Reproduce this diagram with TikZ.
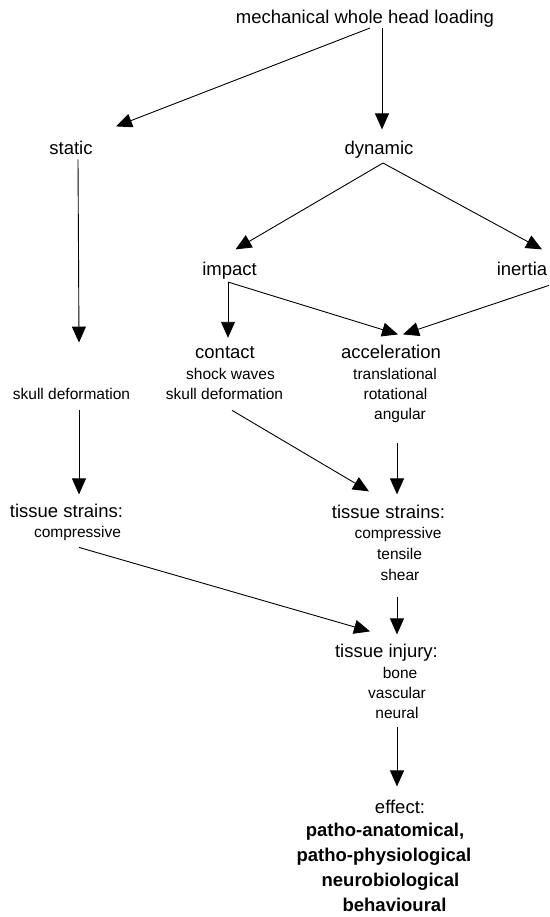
\documentclass[tikz,border=0pt]{standalone}
\usepackage{fontspec}
\setmainfont{Liberation Sans}
\usetikzlibrary{arrows.meta}

\begin{document}
\begin{tikzpicture}[x=1pt,y=-1pt,
	every node/.style={inner sep=0pt, anchor=base},
	big/.style={font=\fontsize{18.5}{20}\selectfont},
	sml/.style={font=\fontsize{15.5}{17}\selectfont},
	bld/.style={font=\fontsize{18.5}{20}\selectfont\bfseries},
	arr/.style={line width=0.9pt, -{Triangle[length=16pt,width=14pt]}}]
	\useasboundingbox (0,0) rectangle (549,917);
	% top levels
	\node[big] (mech) at (365,24) {mechanical whole head loading};
	\node[big] (static) at (71,155) {static};
	\node[big] (dynamic) at (379,155) {dynamic};
	\node[big] (impact) at (229.5,275) {impact};
	\node[big] (inertia) at (522,275) {inertia};
	% contact and acceleration
	\node[big] (contact) at (225,358) {contact};
	\node[sml] (shock) at (230.5,379) {shock waves};
	\node[sml] (skullC) at (224.5,399) {skull deformation};
	\node[big] (accel) at (391,358) {acceleration};
	\node[sml] (transl) at (395,379) {translational};
	\node[sml] (rot) at (395.5,399) {rotational};
	\node[sml] (ang) at (400,419) {angular};
	\node[sml] (skullL) at (71.5,399) {skull deformation};
	% tissue strains
	\node[big] (strainsL) at (66.5,517) {tissue strains:};
	\node[sml] (compL) at (77.5,537) {compressive};
	\node[big] (strainsR) at (388.5,518) {tissue strains:};
	\node[sml] (compR) at (398,538) {compressive};
	\node[sml] (tensile) at (399.5,559) {tensile};
	\node[sml] (shear) at (400,580) {shear};
	% tissue injury
	\node[big] (injury) at (386.5,657) {tissue injury:};
	\node[sml] (bone) at (400,678) {bone};
	\node[sml] (vasc) at (397,698) {vascular};
	\node[sml] (neural) at (397,718) {neural};
	% effect
	\node[big] (effect) at (400,813) {effect:};
	\node[bld] (anat) at (385,836) {patho-anatomical,};
	\node[bld] (phys) at (384,861) {patho-physiological};
	\node[bld] (neuro) at (390.5,886) {neurobiological};
	\node[bld] (behav) at (394.5,911) {behavioural};
	% connectors
	\draw[arr] ([xshift=5pt]mech.south) -- ([xshift=45pt,yshift=15pt]static.north);
	\draw[arr] ([xshift=17pt]mech.south) -- ([xshift=3pt,yshift=12pt]dynamic.north);
	\draw[arr] ([xshift=4pt,yshift=-4pt]dynamic.south) -- ([xshift=6pt,yshift=12pt]impact.north);
	\draw[arr] ([xshift=4pt,yshift=-4pt]dynamic.south) -- ([xshift=20pt,yshift=12pt]inertia.north);
	\draw[arr] ([xshift=-1.5pt,yshift=-3pt]impact.south) -- ([xshift=3pt,yshift=8pt]contact.north);
	\draw[arr] ([xshift=-1.5pt,yshift=-3pt]impact.south) -- ([xshift=7pt,yshift=10pt]accel.north);
	\draw[arr] ([xshift=1.5pt,yshift=-10pt]inertia.south east) -- ([xshift=12pt,yshift=10pt]accel.north);
	\draw[arr] ([xshift=7pt,yshift=-4pt]static.south) -- ([xshift=7.5pt,yshift=45pt]skullL.north);
	\draw[arr] ([xshift=7.5pt,yshift=-11pt]skullL.south) -- ([xshift=12.5pt,yshift=9pt]strainsL.north);
	\draw[arr] ([xshift=7.5pt,yshift=-11pt]skullC.south) -- ([xshift=-19.5pt,yshift=13pt]strainsR.north);
	\draw[arr] ([xshift=-3pt,yshift=-21pt]ang.south) -- ([xshift=8.5pt,yshift=10pt]strainsR.north);
	\draw[arr] ([xshift=1.5pt,yshift=-7pt]compL.south) -- ([xshift=-16.5pt,yshift=12pt]injury.north);
	\draw[arr] ([xshift=-3pt,yshift=-17pt]shear.south) -- ([xshift=10.5pt,yshift=9pt]injury.north);
	\draw[arr] ([yshift=-9pt]neural.south) -- ([xshift=-3pt,yshift=13pt]effect.north);
\end{tikzpicture}
\end{document}
